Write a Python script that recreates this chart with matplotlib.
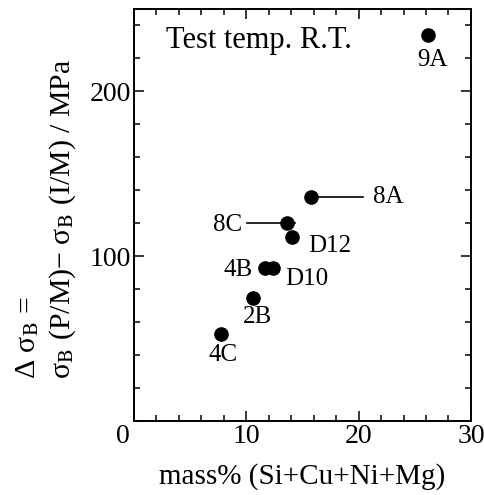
import matplotlib
matplotlib.use('Agg')
import matplotlib.pyplot as plt
import matplotlib.transforms as mtransforms

plt.rcParams['font.family'] = ['Liberation Serif', 'DejaVu Serif']
plt.rcParams['mathtext.fontset'] = 'stix'

# alloy data: solute content (mass%) and strength difference (MPa)
names = ['9A', '8A', '8C', 'D12', '4B', 'D10', '2B', '4C']
mass = [26.2, 15.8, 13.65, 14.1, 11.7, 12.4, 10.6, 7.75]
dsigma = [234, 136, 120, 112, 93, 93, 75, 53]

# label placement (offset in data units, alignment)
lab_dx = [0.4, 5.5, -4.05, 1.4, -1.1, 1.1, 0.4, 0.15]
lab_dy = [-15, 0, -1, -5.5, -1, -7, -12, -13]
lab_ha = ['center', 'left', 'right', 'left', 'right', 'left', 'center', 'center']

# leader lines for 8A and 8C
lead_x = [[15.8, 20.4], [10.1, 14.3]]
lead_y = [[136, 136], [120, 120]]

fig = plt.figure(figsize=(4.85, 4.95), dpi=100)
ax = fig.add_axes([0.276, 0.149, 0.695, 0.833])

for lx, ly in zip(lead_x, lead_y):
    ax.plot(lx, ly, color='black', lw=1.2, zorder=2)
ax.plot(mass, dsigma, 'o', color='black', ms=9.5, zorder=3)

for n, x, y, dx, dy, ha in zip(names, mass, dsigma, lab_dx, lab_dy, lab_ha):
    ax.text(x + dx, y + dy, n, ha=ha, va='center', fontsize=18)

ax.text(2.9, 231, 'Test temp. R.T.', ha='left', va='center', fontsize=22)

ax.set_xlim(0, 30)
ax.set_ylim(0, 250)
ax.set_xticks([0, 10, 20, 30])
ax.set_xticks(range(0, 31, 2), minor=True)
ax.set_yticks([0, 100, 200])
ax.set_yticklabels(['', '100', '200'])
ax.set_yticks(range(0, 251, 20), minor=True)
ax.tick_params(which='both', direction='in', top=True, right=True,
               labelsize=20, pad=2, width=1.1)
ax.tick_params(which='major', length=7)
ax.tick_params(which='minor', length=4.5)
for s in ax.spines.values():
    s.set_linewidth(1.4)

# shared zero at the corner
fig.canvas.draw()
zero = ax.get_xticklabels()[0]
zero.set_transform(zero.get_transform() + mtransforms.ScaledTranslation(-11 / 100, 0, fig.dpi_scale_trans))

ax.set_xlabel('mass% (Si+Cu+Ni+Mg)', fontsize=21, labelpad=10)
ax.set_ylabel('Δ σ$_{\\rm B}$ =\nσ$_{\\rm B}$ (P/M)− σ$_{\\rm B}$ (I/M) / MPa',
              fontsize=21.5, multialignment='left', linespacing=1.3)
ax.yaxis.set_label_coords(-0.165, 0.49)

fig.savefig('out.png', dpi=100)
